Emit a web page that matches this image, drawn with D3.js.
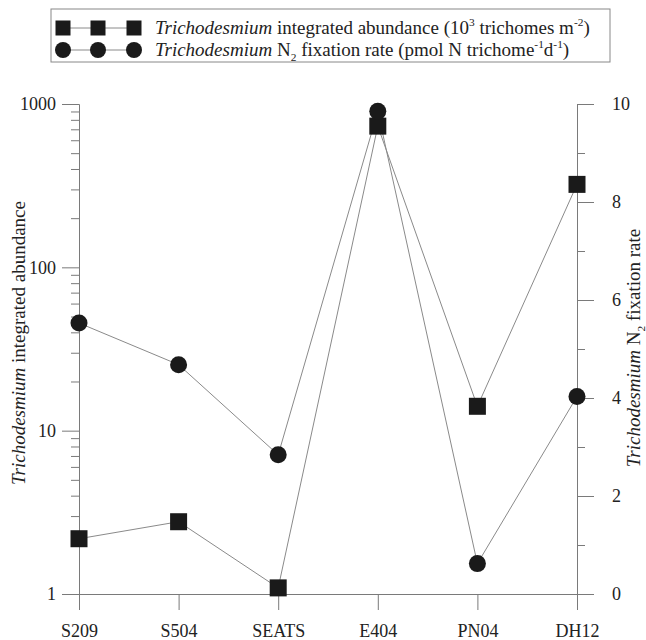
<!DOCTYPE html>
<html>
<head>
<meta charset="utf-8">
<script src="https://cdn.jsdelivr.net/npm/d3@7"></script>
<style>
  body { margin: 0; background: #fff; }
  .axis path, .axis line { stroke: #7a7a7a; stroke-width: 1; }
</style>
</head>
<body>
<div id="chart"></div>
<script>
// stations along the x axis
var stations = ["S209", "S504", "SEATS", "E404", "PN04", "DH12"];
// Trichodesmium integrated abundance (10^3 trichomes m-2), left log axis
var abundance = [2.18, 2.77, 1.09, 732, 14.1, 322];
// Trichodesmium N2 fixation rate (pmol N trichome-1 d-1), right axis
var fixationRate = [5.53, 4.68, 2.84, 9.85, 0.62, 4.03];

var leftTicks = [1, 10, 100, 1000];
var rightTicks = [0, 2, 4, 6, 8, 10];

var width = 646, height = 640;
var plotLeft = 79, plotRight = 577, plotTop = 104, plotBottom = 594;
var serif = "'Liberation Serif', 'Times New Roman', serif";

var svg = d3.select("#chart").append("svg")
    .attr("width", width)
    .attr("height", height);

// scales
var x = d3.scalePoint().domain(stations).range([plotLeft, plotRight]);
var yLeft = d3.scaleLog().domain([1, 1000]).range([plotBottom, plotTop]);
var yRight = d3.scaleLinear().domain([0, 10]).range([plotBottom, plotTop]);

// minor ticks for the log axis
var leftMinor = [];
leftTicks.slice(0, -1).forEach(function(d) {
  for (var k = 2; k < 10; k++) leftMinor.push(d * k);
});
var rightMinor = [1, 3, 5, 7, 9];

// helper for text with italic / super / subscript pieces
function richText(sel, parts, size) {
  parts.forEach(function(p) {
    var ts = sel.append("tspan").text(p.t);
    if (p.i) ts.style("font-style", "italic");
    if (p.sup) ts.attr("font-size", size * 0.6).attr("dy", -size * 0.4);
    if (p.sub) ts.attr("font-size", size * 0.6).attr("dy", size * 0.25);
    if (p.back) ts.attr("dy", p.back);
  });
}

// left axis
svg.append("g").attr("class", "axis")
    .attr("transform", "translate(" + plotLeft + ",0)")
    .call(d3.axisLeft(yLeft).tickValues(leftMinor).tickSize(8).tickSizeOuter(0).tickFormat(""));
svg.append("g").attr("class", "axis")
    .attr("transform", "translate(" + plotLeft + ",0)")
    .call(d3.axisLeft(yLeft).tickValues(leftTicks).tickSize(17).tickSizeOuter(0)
      .tickPadding(6).tickFormat(d3.format("d")));

// right axis
svg.append("g").attr("class", "axis")
    .attr("transform", "translate(" + plotRight + ",0)")
    .call(d3.axisRight(yRight).tickValues(rightMinor).tickSize(8).tickSizeOuter(0).tickFormat(""));
svg.append("g").attr("class", "axis")
    .attr("transform", "translate(" + plotRight + ",0)")
    .call(d3.axisRight(yRight).tickValues(rightTicks).tickSize(17).tickSizeOuter(0).tickPadding(18));

// bottom axis
svg.append("g").attr("class", "axis")
    .attr("transform", "translate(0," + plotBottom + ")")
    .call(d3.axisBottom(x).tickSize(16).tickSizeOuter(0).tickPadding(14));

svg.selectAll(".axis").attr("font-size", 18);
svg.selectAll(".axis .domain").attr("fill", "none");

// lines
var lineAb = d3.line()
    .x(function(d, i) { return x(stations[i]); })
    .y(function(d) { return yLeft(d); });
var lineFix = d3.line()
    .x(function(d, i) { return x(stations[i]); })
    .y(function(d) { return yRight(d); });

svg.append("path").datum(abundance)
    .attr("d", lineAb).attr("fill", "none").attr("stroke", "#8a8a8a").attr("stroke-width", 1);
svg.append("path").datum(fixationRate)
    .attr("d", lineFix).attr("fill", "none").attr("stroke", "#8a8a8a").attr("stroke-width", 1);

var ms = 17;
svg.append("g").selectAll("rect")
    .data(abundance)
    .enter().append("rect")
    .attr("x", function(d, i) { return x(stations[i]) - ms / 2; })
    .attr("y", function(d) { return yLeft(d) - ms / 2; })
    .attr("width", ms).attr("height", ms)
    .attr("fill", "#1a1a1a");

svg.append("g").selectAll("circle")
    .data(fixationRate)
    .enter().append("circle")
    .attr("cx", function(d, i) { return x(stations[i]); })
    .attr("cy", function(d) { return yRight(d); })
    .attr("r", ms / 2)
    .attr("fill", "#1a1a1a");

// axis titles
var ts = 19;
var tl = svg.append("text")
    .attr("transform", "translate(25,343) rotate(-90)")
    .attr("text-anchor", "middle")
    .attr("font-size", ts);
richText(tl, [{t: "Trichodesmium", i: true}, {t: " integrated abundance"}], ts);

var tr = svg.append("text")
    .attr("transform", "translate(640,348) rotate(-90)")
    .attr("text-anchor", "middle")
    .attr("font-size", ts);
richText(tr, [{t: "Trichodesmium", i: true}, {t: " N"}, {t: "2", sub: true},
              {t: " fixation rate", back: -ts * 0.25}], ts);

// legend
var legend = svg.append("g");
legend.append("rect")
    .attr("x", 51).attr("y", 9).attr("width", 559).attr("height", 53)
    .attr("fill", "#fff").attr("stroke", "#888").attr("stroke-width", 1);

var legendX = [63, 98, 134];
var rows = [28, 50];
var fs = 19;

legend.append("line").attr("x1", legendX[0]).attr("x2", legendX[2])
    .attr("y1", rows[0]).attr("y2", rows[0]).attr("stroke", "#8a8a8a");
legend.selectAll("rect.m").data(legendX).enter().append("rect")
    .attr("class", "m")
    .attr("x", function(d) { return d - 7.5; }).attr("y", rows[0] - 7.5)
    .attr("width", 15).attr("height", 15).attr("fill", "#1a1a1a");

legend.append("line").attr("x1", legendX[0]).attr("x2", legendX[2])
    .attr("y1", rows[1]).attr("y2", rows[1]).attr("stroke", "#8a8a8a");
legend.selectAll("circle").data(legendX).enter().append("circle")
    .attr("cx", function(d) { return d; }).attr("cy", rows[1])
    .attr("r", 8).attr("fill", "#1a1a1a");

var l1 = legend.append("text").attr("x", 155).attr("y", rows[0] + 6).attr("font-size", fs);
richText(l1, [
  {t: "Trichodesmium", i: true},
  {t: " integrated abundance (10"},
  {t: "3", sup: true},
  {t: " trichomes m", back: fs * 0.4},
  {t: "-2", sup: true},
  {t: ")", back: fs * 0.4}
], fs);

var l2 = legend.append("text").attr("x", 155).attr("y", rows[1] + 6).attr("font-size", fs);
richText(l2, [
  {t: "Trichodesmium", i: true},
  {t: " N"},
  {t: "2", sub: true},
  {t: " fixation rate (pmol N trichome", back: -fs * 0.25},
  {t: "-1", sup: true},
  {t: "d", back: fs * 0.4},
  {t: "-1", sup: true},
  {t: ")", back: fs * 0.4}
], fs);

// serif font on every text
svg.selectAll("text").style("font-family", serif).style("fill", "#222");
</script>
</body>
</html>
